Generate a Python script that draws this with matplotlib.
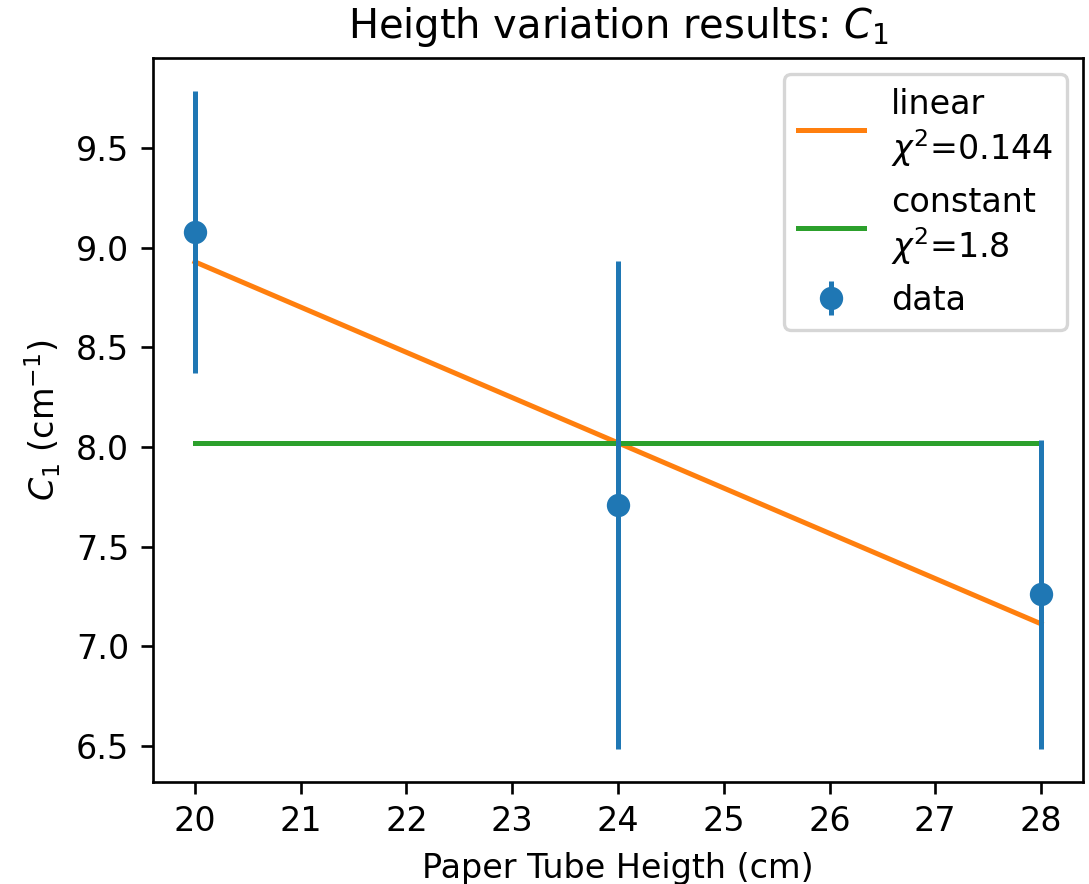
import numpy as np
import matplotlib
matplotlib.use("Agg")
import matplotlib.pyplot as plt

heights = [20, 24, 28]
c1 = [9.08, 7.71, 7.26]
c1_err = [0.71, 1.225, 0.777]

lin_x = [20, 28]
lin_y = [8.93, 7.112]
const_y = [8.021, 8.021]

dpi = 240
fig = plt.figure(figsize=(1089 / dpi, 884 / dpi), dpi=dpi)
ax = fig.add_axes([0.1402, 0.1154, 0.9948 - 0.1402, 0.9347 - 0.1154])

ax.plot(lin_x, lin_y, color="tab:orange", label="linear\n$\\chi^2$=0.144")
ax.plot(lin_x, const_y, color="tab:green", label="constant\n$\\chi^2$=1.8")
ax.errorbar(heights, c1, yerr=c1_err, fmt="o", color="tab:blue", label="data")

ax.set_title("Heigth variation results: $C_1$")
ax.set_xlabel("Paper Tube Heigth (cm)")
ax.set_ylabel("$C_1$ (cm$^{-1}$)")
ax.legend(loc="upper right")

fig.savefig("out.png", dpi=dpi)
